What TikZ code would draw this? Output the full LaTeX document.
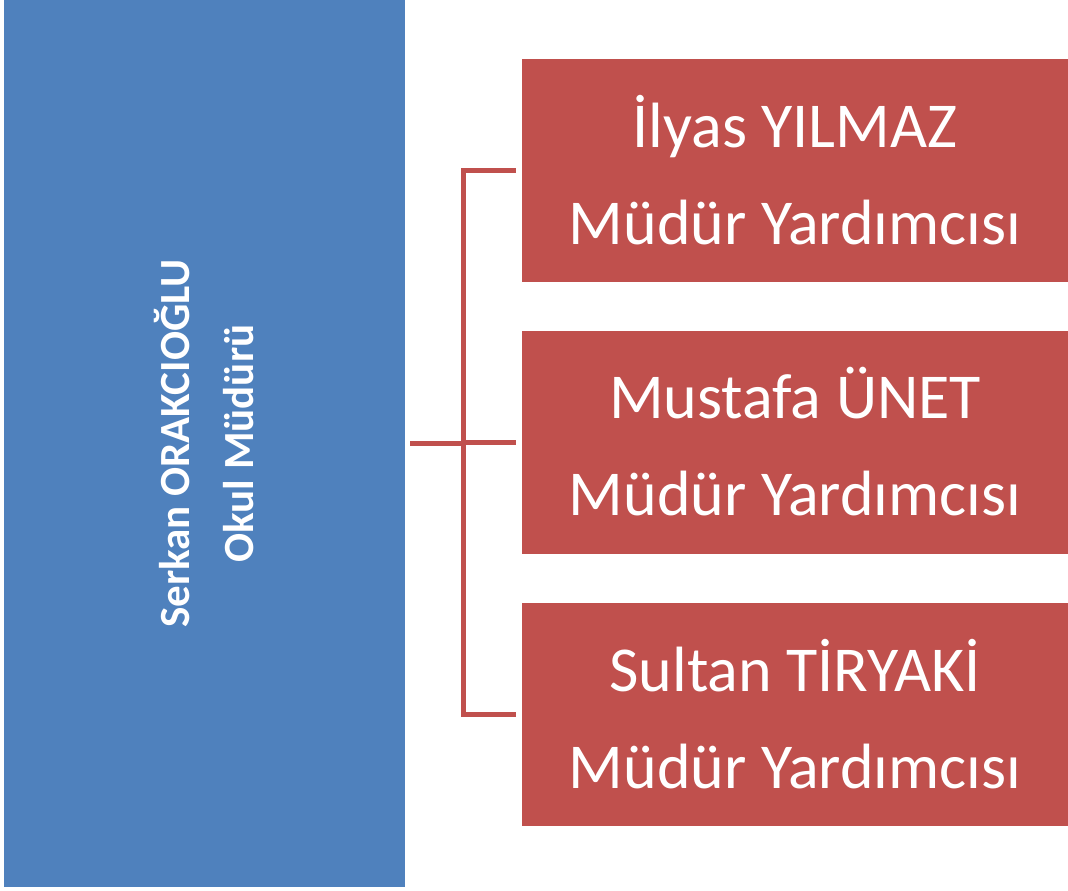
\documentclass[tikz,border=0pt]{standalone}
\usepackage{fontspec}
\setmainfont{Carlito}
\definecolor{bossblue}{HTML}{4F81BD}
\definecolor{aidered}{HTML}{C0504D}

\begin{document}
\begin{tikzpicture}[x=1pt,y=-1pt,
    bossbox/.style={fill=bossblue,text=white,font=\fontsize{43}{64}\selectfont\bfseries,
        align=center,rotate=90,minimum width=887pt,minimum height=401pt,inner sep=0pt},
    aidebox/.style={fill=aidered,text=white,font=\fontsize{64}{97}\selectfont,
        align=center,minimum width=546pt,minimum height=223pt,inner sep=0pt},
    link/.style={draw=aidered,line width=5pt}]
        \pgfmathsetmacro{\bx}{204.5}
        \pgfmathsetmacro{\by}{443.5}
        \pgfmathsetmacro{\ax}{795}
        \pgfmathsetmacro{\sx}{463}

        \useasboundingbox (0,0) rectangle (1068,891);
        \node[bossbox] (boss) at (\bx,\by) {Serkan ORAKCIOĞLU\\Okul Müdürü};
        \node[aidebox] (aide1) at (\ax,170.5) {İlyas YILMAZ\\Müdür Yardımcısı};
        \node[aidebox] (aide2) at (\ax,442) {Mustafa ÜNET\\Müdür Yardımcısı};
        \node[aidebox] (aide3) at (\ax,714) {Sultan TİRYAKİ\\Müdür Yardımcısı};

        \coordinate (split) at (\sx,\by);
        \draw[link] ([xshift=5pt]boss.south) -- (split);
        \foreach \i in {1,2,3}
            \draw[link] (split) |- ([xshift=-6pt]aide\i.west);
\end{tikzpicture}
\end{document}
